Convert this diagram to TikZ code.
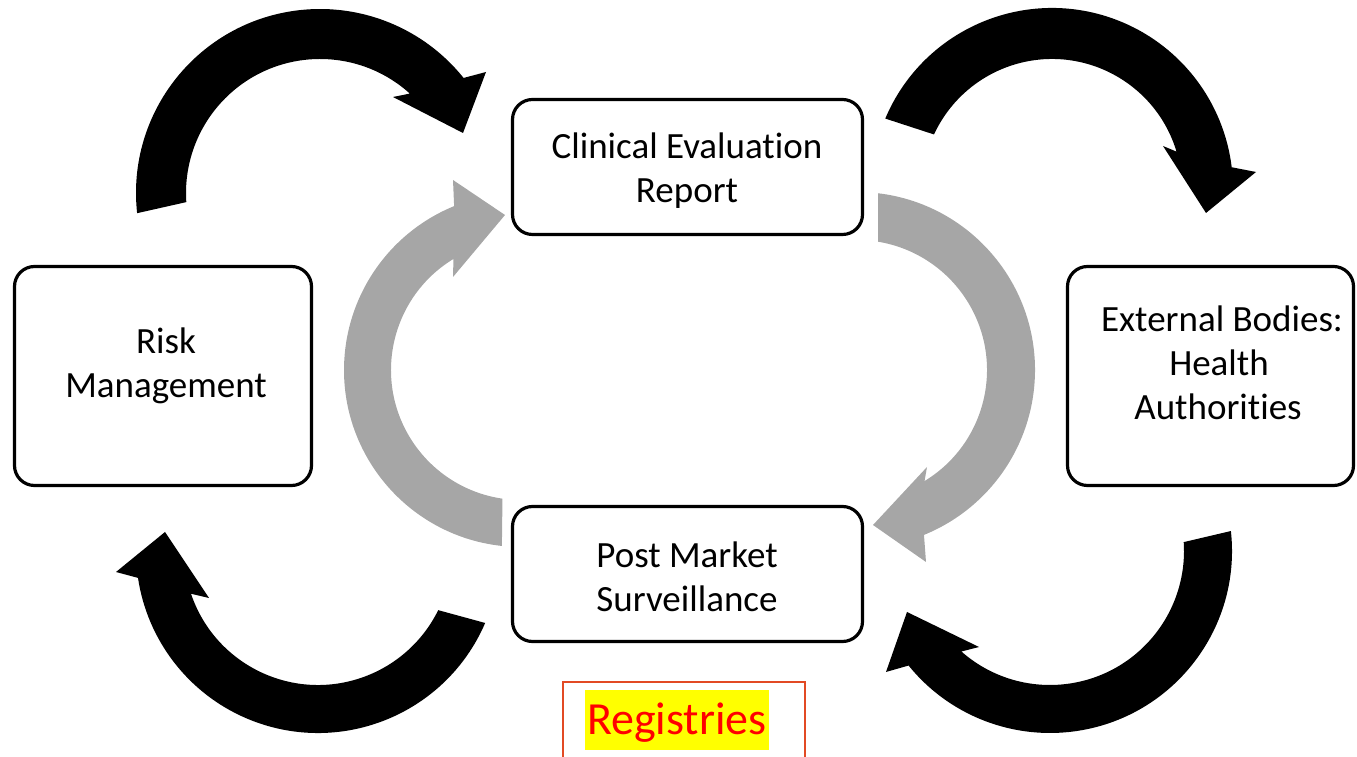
\documentclass[tikz,border=0pt]{standalone}
\usepackage{fontspec}
\setmainfont[Ligatures={NoCommon}]{Carlito}
\definecolor{arrgray}{RGB}{166,166,166}
\definecolor{regborder}{RGB}{226,74,36}
\definecolor{regred}{RGB}{255,0,0}
\definecolor{hilite}{RGB}{255,255,0}
\begin{document}
\begin{tikzpicture}[x=1pt,y=1pt,
  box/.style={draw=black, line width=3.2pt, rounded corners=20pt, fill=white, inner sep=0pt},
  lbl/.style={anchor=base, inner sep=0pt, font=\fontsize{37}{44}\selectfont},
  blackarrow/.style={fill=black},
  grayarrow/.style={fill=arrgray}]
\useasboundingbox (0,0) rectangle (1357,757);

% black arrow: top-left (Risk -> CER)
\begin{scope}[shift={(320,564)}]
\fill[blackarrow] (186.3:184) arc[start angle=186.3, end angle=38.7, radius=184]
  -- (166,121) -- (143,60) -- (73,96) -- (47.9:134)
  arc[start angle=47.9, end angle=183.9, radius=134] -- cycle;
\end{scope}
% black arrow: top-right (CER -> External)
\begin{scope}[shift={(1052,568)}]
\fill[blackarrow] (157.1:181) arc[start angle=157.1, end angle=6.9, radius=181]
  -- (204,17) -- (154,-24) -- (111,43) -- (16.7:130)
  arc[start angle=16.7, end angle=155.2, radius=130] -- cycle;
\end{scope}
% black arrow: bottom-left (PMS -> Risk)
\begin{scope}[shift={(318,206)}]
\fill[blackarrow] (-23.3:182) arc[start angle=-23.3, end angle=-171.5, radius=182]
  -- (-202,-21) -- (-153,19) -- (-109,-47) -- (-161.4:134)
  arc[start angle=-161.4, end angle=-26.2, radius=134] -- cycle;
\end{scope}
% black arrow: bottom-right (External -> PMS)
\begin{scope}[shift={(1050,206)}]
\fill[blackarrow] (6.3:182) arc[start angle=6.3, end angle=-141, radius=182]
  -- (-164,-121) -- (-143,-61) -- (-71,-96) -- (-131.4:134)
  arc[start angle=-131.4, end angle=3.8, radius=134] -- cycle;
\end{scope}
% gray arrow: left (PMS -> CER)
\begin{scope}[shift={(521,387)}]
\fill[grayarrow] (263.8:177) arc[start angle=263.8, end angle=112.2, radius=177]
  -- (-68,190) -- (-16,155) -- (-68,93) -- (121.3:130)
  arc[start angle=121.3, end angle=261.8, radius=130] -- cycle;
\end{scope}
% gray arrow: right (CER -> PMS)
\begin{scope}[shift={(857,387)}]
\fill[grayarrow] (83.2:178) arc[start angle=83.2, end angle=-67.9, radius=178]
  -- (69,-192) -- (16,-155) -- (70,-97) -- (-58.7:130)
  arc[start angle=-58.7, end angle=80.7, radius=130] -- cycle;
\end{scope}

% boxes
\node[box, minimum width=350pt, minimum height=135pt] (cer) at (687.5,590) {};
\node[box, minimum width=350pt, minimum height=135pt] (pms) at (687.5,183) {};
\node[box, minimum width=297pt, minimum height=219pt] (risk) at (163,381) {};
\node[box, minimum width=286pt, minimum height=219pt] (ext) at (1210.5,381) {};

% labels
\node[lbl] (cer1) at (687,598) {Clinical Evaluation};
\node[lbl] (cer2) at (687,554) {Report};
\node[lbl] (risk1) at (166,403) {Risk};
\node[lbl] (risk2) at (166,359) {Management};
\node[lbl] (ext1) at (1222,425) {External Bodies:};
\node[lbl] (ext2) at (1219,381) {Health};
\node[lbl] (ext3) at (1218,337) {Authorities};
\node[lbl] (pms1) at (687,189) {Post Market};
\node[lbl] (pms2) at (687,145) {Surveillance};

% registries
\draw[regborder, line width=1.5pt] (563,-20) rectangle (805,75);
\node[anchor=base, fill=hilite, text=regred, inner xsep=2.5pt, inner ysep=0pt,
  text height=45pt, text depth=15pt, font=\fontsize{46}{55}\selectfont] (reg) at (677,22) {Registries};
\end{tikzpicture}
\end{document}
